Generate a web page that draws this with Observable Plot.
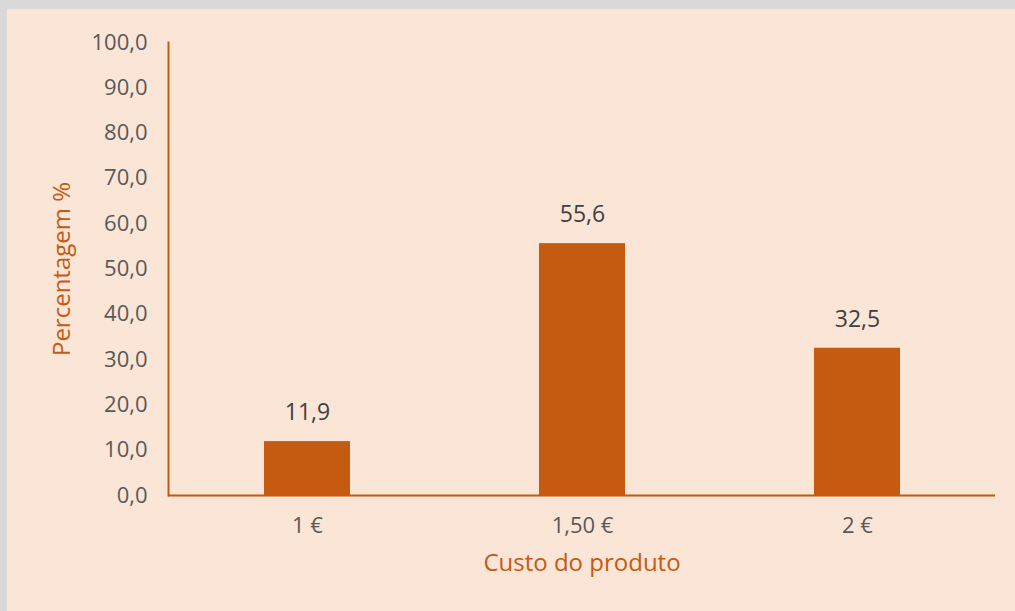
<!DOCTYPE html>
<html>
<head>
<meta charset="utf-8">
<script src="https://cdn.jsdelivr.net/npm/d3@7"></script>
<script src="https://cdn.jsdelivr.net/npm/@observablehq/plot@0.6"></script>
<style>
  html, body { margin: 0; padding: 0; }
  body { width: 1015px; height: 611px; background: #d9d9d9; position: relative; overflow: hidden; }
  #bg { position: absolute; left: 7px; top: 9px; width: 1008px; height: 602px; background: #FBE5D6; }
  #chart { position: absolute; left: 0; top: 0; }
</style>
</head>
<body>
<div id="bg"></div>
<div id="chart"></div>
<script>
const categories = ["1 €", "1,50 €", "2 €"];
const values = [11.9, 55.6, 32.5];
const yTicks = [0, 10, 20, 30, 40, 50, 60, 70, 80, 90, 100];
const xTitle = "Custo do produto";
const yTitle = "Percentagem %";

const data = categories.map((c, i) => ({cat: c, value: values[i]}));
const fmt = d => d.toFixed(1).replace(".", ",");
const orange = "#C55A11";
const font = "'Open Sans', 'Segoe UI', sans-serif";

const chart = Plot.plot({
  width: 1015,
  height: 611,
  marginLeft: 168,
  marginRight: 20,
  marginTop: 42,
  marginBottom: 116,
  style: {background: "transparent", fontFamily: font, overflow: "visible"},
  x: {domain: categories, paddingInner: 0.688, paddingOuter: 0.344},
  y: {domain: [0, 100]},
  marks: [
    Plot.barY(data, {x: "cat", y: "value", fill: orange}),
    Plot.text(data, {x: "cat", y: "value", text: d => fmt(d.value), dy: -29, fill: "#404040", fontSize: 23}),
    Plot.axisY({ticks: yTicks, tickSize: 0, tickPadding: 21, tickFormat: fmt, fill: "#595959", fontSize: 22, label: null}),
    Plot.axisX({tickSize: 0, tickPadding: 22, fill: "#595959", fontSize: 22, label: null}),
    Plot.ruleY([0], {stroke: orange, strokeWidth: 2}),
    Plot.frame({anchor: "left", stroke: orange, strokeWidth: 2}),
    Plot.text([xTitle], {frameAnchor: "bottom", dy: 75, fill: orange, fontSize: 24}),
    Plot.text([yTitle], {frameAnchor: "left", textAnchor: "middle", rotate: -90, dx: -106, fill: orange, fontSize: 24})
  ]
});
document.getElementById("chart").appendChild(chart);
</script>
</body>
</html>
